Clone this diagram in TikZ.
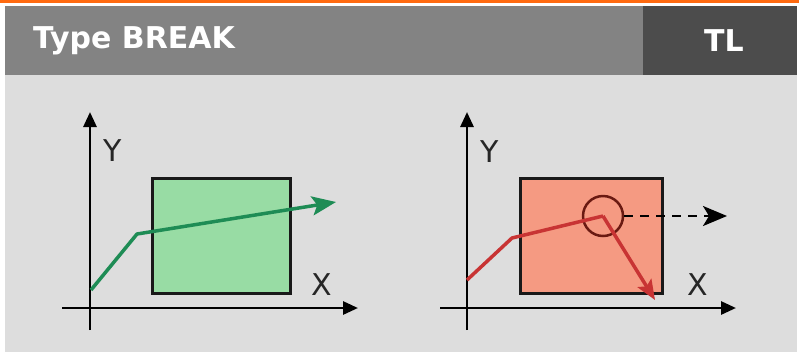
\documentclass[tikz,border=0pt]{standalone}
\usepackage{fontspec}
\setmainfont{DejaVu Sans}
\usetikzlibrary{arrows.meta}
\definecolor{orng}{HTML}{FF6A10}
\definecolor{hdr}{HTML}{838383}
\definecolor{hdrdark}{HTML}{4C4C4C}
\definecolor{bodybg}{HTML}{DDDDDD}
\definecolor{gfill}{HTML}{98DCA4}
\definecolor{gline}{HTML}{1E8C55}
\definecolor{rfill}{HTML}{F59A82}
\definecolor{rline}{HTML}{C83434}
\definecolor{rdark}{HTML}{6A1A12}
\tikzset{
  axis/.style={line width=2.8pt, -{Triangle[length=15pt,width=13pt]}},
  lbl/.style={font=\fontsize{30}{30}\selectfont, text=black!85, inner sep=0pt},
  hdrtext/.style={font=\bfseries\fontsize{30}{30}\selectfont, text=white, inner sep=0pt},
  zone/.style={draw=black!90, line width=2.8pt},
  pathline/.style={line width=3.5pt, line join=round},
  bigtip/.style={-{Stealth[length=24pt,width=19pt,inset=5pt]}},
}
\begin{document}
\begin{tikzpicture}[x=1pt,y=-1pt]
\useasboundingbox (0,0) rectangle (799,354);
\fill[white] (0,0) rectangle (799,354);
\fill[orng] (0,0) rectangle (799,2.5);
\fill[hdr] (5,6) rectangle (643,75);
\fill[hdrdark] (643,6) rectangle (797,75);
\fill[bodybg] (5,75) rectangle (797,352);
\node[hdrtext, anchor=base west] (title) at (33,48) {Type BREAK};
\node[hdrtext, anchor=base] (tl) at (724,51) {TL};

% left graph
\coordinate (lxs) at (62,308);
\coordinate (lxe) at (358,308);
\coordinate (lys) at (90,330);
\coordinate (lye) at (90,112);
\node[zone, fill=gfill, minimum width=138pt, minimum height=115pt, anchor=north west] (gbox) at (151,177) {};
\draw[axis] (lxs) -- (lxe);
\draw[axis] (lys) -- (lye);
\node[lbl] (ly) at (113,151) {Y};
\node[lbl] (lx) at (322,285) {X};
\coordinate (g0) at (91,290);
\coordinate (g1) at (137,234);
\coordinate (g2) at (336,202);
\draw[pathline, gline, bigtip] (g0) -- (g1) -- (g2);

% right graph
\coordinate (rxs) at (440,308);
\coordinate (rxe) at (736,308);
\coordinate (rys) at (467,330);
\coordinate (rye) at (467,112);
\node[zone, fill=rfill, minimum width=142pt, minimum height=115pt, anchor=north west] (rbox) at (519,177) {};
\draw[axis] (rxs) -- (rxe);
\draw[axis] (rys) -- (rye);
\node[lbl] (ry) at (490,152) {Y};
\node[lbl] (rx) at (698,285) {X};
\coordinate (r0) at (467,280);
\coordinate (r1) at (512,238);
\node[circle, draw=rdark, line width=2.5pt, minimum size=40pt, inner sep=0pt] (brk) at (603,216) {};
\coordinate (r3) at (655,300);
\coordinate (dashend) at (727,216);
\draw[pathline, rline] (r0) -- (r1) -- (brk.center);
\draw[pathline, rline, -{Stealth[length=20pt,width=16pt,inset=4pt]}] (brk.center) -- (r3);
\draw[line width=2.2pt, dash pattern=on 9pt off 7pt, -{Stealth[length=24pt,width=20pt,inset=6pt]}] (brk.east) -- (dashend);
\end{tikzpicture}
\end{document}
